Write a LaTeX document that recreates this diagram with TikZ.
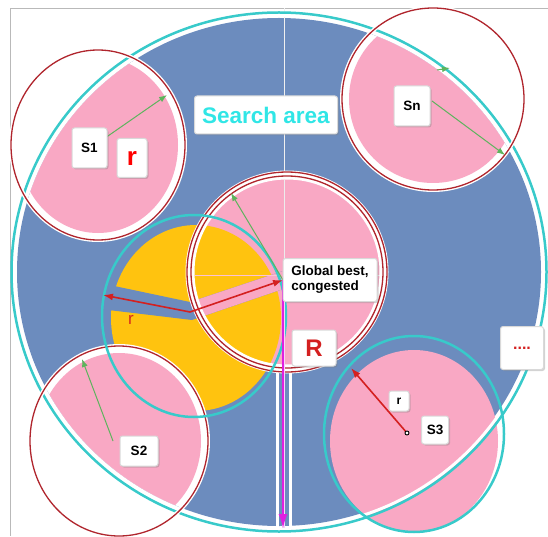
\documentclass[tikz,border=0pt]{standalone}
\usepackage{fontspec}
\setmainfont{Liberation Sans}
\usetikzlibrary{shadows,arrows.meta}
\definecolor{bgblue}{HTML}{6C8CBE}
\definecolor{pinkc}{HTML}{F9A8C4}
\definecolor{yel}{HTML}{FFC30F}
\definecolor{cyanc}{HTML}{38CACA}
\definecolor{redc}{HTML}{B0252D}
\definecolor{arrred}{HTML}{D42020}
\definecolor{grn}{HTML}{5DB45D}
\definecolor{mag}{HTML}{E020E0}
\definecolor{srch}{HTML}{30E6E6}
\tikzset{
  lbox/.style={draw=black!15, line width=1pt, fill=white, rounded corners=2.5pt,
    drop shadow={shadow xshift=1.5pt, shadow yshift=-1.5pt, opacity=0.35},
    inner sep=2pt, font=\bfseries\fontsize{13.5}{15}\selectfont},
  garrow/.style={draw=grn, line width=1pt, -{Latex[length=8pt,width=6pt]}},
  rarrow/.style={draw=arrred, line width=1.6pt, -{Latex[length=10pt,width=7pt]}},
  redring/.style={draw=redc, line width=1.3pt},
  halo/.style={draw=white, line width=4pt},
  cyanring/.style={draw=cyanc, line width=2.5pt}
}
\begin{document}
\begin{tikzpicture}[x=1pt,y=-1pt]
\useasboundingbox (0,0) rectangle (548,537);
\clip (0,0) rectangle (548,537);
% frame
\draw[gray!55, line width=0.8pt] (548,8) -- (10,8) -- (10,536);
% search area
\fill[bgblue] (279,272) ellipse [x radius=262pt, y radius=254pt];
% faint vertical guide
\draw[white!88!gray, line width=0.4pt] (284,8) -- (284,180);
% white strips beside the vertical arrow
\draw[white, line width=3pt] (277,370) -- (277,530);
\draw[white, line width=3pt] (290,370) -- (290,530);
% central circle pink
\fill[pinkc] (287,272) circle [radius=93pt];
\draw[white!85!gray, line width=0.5pt] (284,180) -- (284,365);
\draw[white!85!gray, line width=0.5pt] (195,275) -- (385,275);
% S1, Sn pinks clipped to search area
\begin{scope}
  \clip (279,272) ellipse [x radius=262pt, y radius=254pt];
  \fill[white] (98,145) ellipse [x radius=86pt, y radius=94pt];
  \fill[pinkc] (98,145) ellipse [x radius=80pt, y radius=88pt];
  \fill[white] (433,99) circle [radius=90pt];
  \fill[pinkc] (433,99) circle [radius=84pt];
\end{scope}
% yellow region
\fill[yel] (196,318) ellipse [x radius=85pt, y radius=93pt];
\fill[bgblue] (100,283) -- (190,302) -- (283,271) -- (283,289) -- (192,320) -- (100,309) -- cycle;
\begin{scope}
  \clip (287,272) circle [radius=96pt];
  \fill[pinkc] (100,283) -- (190,302) -- (283,271) -- (283,289) -- (192,320) -- (100,309) -- cycle;
  \draw[pinkc!70!white, line width=0.8pt] (195,275) -- (280,275);
\end{scope}
% S2 pink
\begin{scope}
  \clip (279,272) ellipse [x radius=262pt, y radius=254pt];
  \fill[white] (119,441) ellipse [x radius=88pt, y radius=94pt];
  \fill[pinkc] (119,441) ellipse [x radius=82pt, y radius=88pt];
\end{scope}
% S3 pink
\fill[pinkc] (414,441) ellipse [x radius=84pt, y radius=91pt];
% search area outline
\draw[white, line width=3pt] (279,272) ellipse [x radius=264.5pt, y radius=256.5pt];
\draw[cyanring] (279,272) ellipse [x radius=267.5pt, y radius=259.5pt];
% outlines of circles
\draw[halo] (98,145) ellipse [x radius=87pt, y radius=95pt];
\draw[redring] (98,145) ellipse [x radius=87pt, y radius=95pt];
\draw[halo] (433,99) circle [radius=91pt];
\draw[redring] (433,99) circle [radius=91pt];
\draw[white, line width=9pt] (287,272) circle [radius=97pt];
\draw[redring] (287,272) circle [radius=100pt];
\draw[redring] (287,272) circle [radius=96pt];
\draw[halo] (119,441) ellipse [x radius=89pt, y radius=95pt];
\draw[redring] (119,441) ellipse [x radius=89pt, y radius=95pt];
\draw[cyanring] (194,316) ellipse [x radius=92pt, y radius=101pt];
\draw[cyanring] (414,434) ellipse [x radius=90pt, y radius=98pt];
% coordinates
\coordinate (s1c) at (95,145);
\coordinate (s1t) at (167,95);
\coordinate (snc) at (432,101);
\coordinate (snt) at (505,155);
\coordinate (snm1) at (437,70);
\coordinate (snm2) at (450,68);
\coordinate (gb) at (283,280);
\coordinate (gbt) at (231,193);
\coordinate (gbd) at (283,528);
\coordinate (s2c) at (113,441);
\coordinate (s2t) at (82,359);
\coordinate (yc) at (190,312);
\coordinate (yl) at (103,295);
\coordinate (s3c) at (407,433);
\coordinate (s3t) at (351,368);
% arrows
\draw[garrow] (s1c) -- (s1t);
\draw[garrow] (snc) -- (snt);
\draw[garrow] (snm1) -- (snm2);
\draw[garrow] (gb) -- (gbt);
\draw[garrow] (s2c) -- (s2t);
\draw[white!80!mag, line width=3pt] (gb) -- (gbd);
\draw[mag, line width=1.5pt, -{Latex[length=14pt,width=9pt]}] (gb) -- (gbd);
\draw[rarrow] (yc) -- (yl);
\draw[rarrow] (yc) -- (gb);
\draw[arrred, line width=1.6pt, -{Latex[length=10pt,width=7pt]}] (s3c) -- (s3t);
\draw[black, line width=0.9pt, fill=white] (s3c) circle [radius=2pt];
\node[text=arrred!90!orange, font=\fontsize{17}{17}\selectfont] (ry) at (131,320) {r};
% labels
\node[lbox, minimum width=35pt, minimum height=40pt] (s1) at (89.5,148) {S1};
\node[lbox, minimum width=30pt, minimum height=39pt, text=red, font=\bfseries\fontsize{26}{26}\selectfont] (r1) at (132,158) {r};
\node[lbox, minimum width=143pt, minimum height=38pt, text=srch, font=\bfseries\fontsize{22.5}{24}\selectfont] (sa) at (266,115) {Search area};
\node[lbox, minimum width=36pt, minimum height=40pt] (sn) at (412,106) {Sn};
\node[lbox, minimum width=94pt, minimum height=43pt, align=left, inner sep=4pt] (gbl) at (330,280) {Global best,\\congested};
\node[lbox, minimum width=44pt, minimum height=36pt, text=arrred, font=\bfseries\fontsize{24}{24}\selectfont] (rb) at (314,348) {R};
\node[lbox, minimum width=43pt, minimum height=43pt, text=arrred, font=\bfseries\fontsize{16}{16}\selectfont] (dots) at (522,348) {....};
\node[lbox, minimum width=20pt, minimum height=20pt, font=\bfseries\fontsize{12}{12}\selectfont] (r3) at (399,401) {r};
\node[lbox, minimum width=27pt, minimum height=28pt] (s3) at (435,430) {S3};
\node[lbox, minimum width=38pt, minimum height=30pt] (s2) at (139,451) {S2};
\end{tikzpicture}
\end{document}
